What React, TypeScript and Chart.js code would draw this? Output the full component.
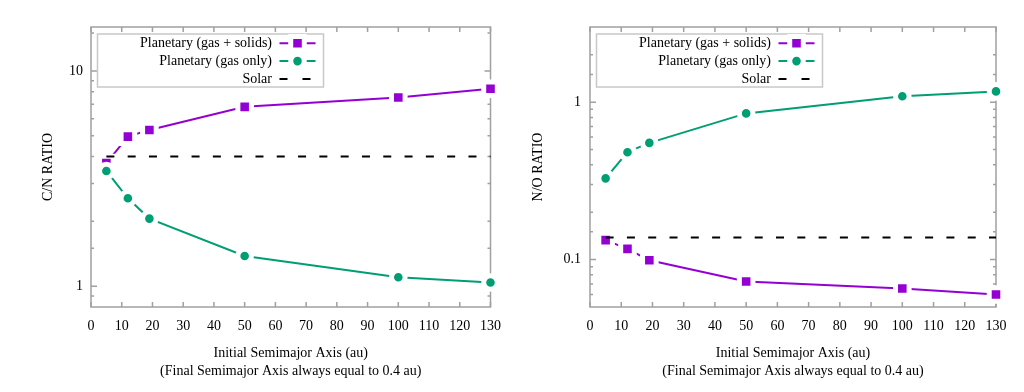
import React, { useEffect, useRef } from "react";
import { Chart, registerables } from "chart.js";

Chart.register(...registerables);

// ---------- data ----------
const semimajorAxis = [5, 12, 19, 50, 100, 130];
const cnGasSolids = [3.73, 4.95, 5.32, 6.81, 7.53, 8.26];
const cnGasOnly = [3.43, 2.56, 2.06, 1.38, 1.1, 1.04];
const cnSolar = 4.0;
const noGasSolids = [0.133, 0.117, 0.099, 0.0726, 0.0656, 0.06];
const noGasOnly = [0.328, 0.481, 0.551, 0.848, 1.09, 1.17];
const noSolar = 0.138;
const solarRange = [5, 130];
const xTickValues = [0, 10, 20, 30, 40, 50, 60, 70, 80, 90, 100, 110, 120, 130];
const cnYTickLabels = [1, 10];
const noYTickLabels = [0.1, 1];
const seriesLabels = ["Planetary (gas + solids)", "Planetary (gas only)", "Solar"];
const xTitleLines = ["Initial Semimajor Axis (au)", "(Final Semimajor Axis always equal to 0.4 au)"];

const PURPLE = "#9400d3";
const GREEN = "#009e73";
const FONT = "'Liberation Serif', 'DejaVu Serif', serif";

const SQ_R = 9.6;
const CI_R = 6.8;
const MARK_BORDER = 5;

function drawMarker(ctx: CanvasRenderingContext2D, style: string, color: string, x: number, y: number) {
  ctx.save();
  ctx.setLineDash([]);
  ctx.beginPath();
  if (style === "rect") {
    const s = Math.SQRT1_2 * SQ_R;
    ctx.rect(x - s, y - s, 2 * s, 2 * s);
  } else {
    ctx.arc(x, y, CI_R, 0, Math.PI * 2);
  }
  ctx.fillStyle = color;
  ctx.fill();
  ctx.lineWidth = MARK_BORDER;
  ctx.strokeStyle = "#ffffff";
  ctx.stroke();
  ctx.restore();
}

const framePlugin = {
  id: "gnuFrame",
  beforeDatasetsDraw(chart: any, _args: any, opts: any) {
    const { ctx, chartArea } = chart;
    const { left, right, top, bottom } = chartArea;
    const xs = chart.scales.x;
    const ys = chart.scales.y;
    const majors: number[] = opts.majors || [];
    ctx.save();
    ctx.strokeStyle = "#a0a0a0";
    ctx.lineWidth = 1.5;
    ctx.setLineDash([]);
    ctx.strokeRect(left, top, right - left, bottom - top);
    ctx.beginPath();
    xTickValues.forEach((v) => {
      const px = xs.getPixelForValue(v);
      ctx.moveTo(px, bottom);
      ctx.lineTo(px, bottom - 5);
      ctx.moveTo(px, top);
      ctx.lineTo(px, top + 5);
    });
    ys.ticks.forEach((t: any) => {
      const v = t.value;
      const py = ys.getPixelForValue(v);
      if (py < top + 0.5 || py > bottom - 0.5) return;
      const isMajor = majors.some((m) => Math.abs(m - v) < 1e-9);
      const len = isMajor ? 6 : 3;
      ctx.moveTo(left, py);
      ctx.lineTo(left + len, py);
      ctx.moveTo(right, py);
      ctx.lineTo(right - len, py);
    });
    ctx.stroke();
    ctx.restore();
  },
};

const legendPlugin = {
  id: "gnuLegend",
  afterDraw(chart: any) {
    const { ctx, chartArea } = chart;
    const bx = chartArea.left + 6.5;
    const by = chartArea.top + 7;
    const bw = 226;
    const bh = 53;
    ctx.save();
    ctx.strokeStyle = "#c8c8c8";
    ctx.lineWidth = 1.5;
    ctx.strokeRect(bx, by, bw, bh);
    ctx.font = `14px ${FONT}`;
    ctx.textAlign = "right";
    ctx.textBaseline = "middle";
    chart.data.datasets.forEach((ds: any, i: number) => {
      const cy = by + 9.3 + i * 17.8;
      ctx.fillStyle = "#000";
      ctx.fillText(ds.label, bx + 174.5, cy + 0.5);
      ctx.beginPath();
      ctx.lineWidth = 2;
      ctx.strokeStyle = ds.borderColor;
      if (ds.borderDash && ds.borderDash.length) {
        ctx.setLineDash([8, 15]);
        ctx.moveTo(bx + 182, cy);
        ctx.lineTo(bx + 213, cy);
      } else {
        ctx.setLineDash([]);
        ctx.moveTo(bx + 182, cy);
        ctx.lineTo(bx + 218, cy);
      }
      ctx.stroke();
      ctx.setLineDash([]);
      if (ds.pointRadius > 0) {
        drawMarker(ctx, ds.pointStyle, ds.pointBackgroundColor, bx + 200, cy);
      }
    });
    ctx.restore();
  },
};

function makeConfig(opts: {
  gasSolids: number[];
  gasOnly: number[];
  solar: number;
  yMin: number;
  yMax: number;
  yLabels: number[];
  yTitle: string;
  yWidth: number;
  rightPad: number;
  yTitlePad: number;
  yLabelPad: number;
}) {
  const tickFont = { family: FONT, size: 14 };
  const titleFont = { family: FONT, size: 14, lineHeight: 1.24 };
  return {
    type: "line" as const,
    data: {
      datasets: [
        {
          label: seriesLabels[0],
          data: semimajorAxis.map((x, i) => ({ x, y: opts.gasSolids[i] })),
          borderColor: PURPLE,
          borderWidth: 2,
          pointStyle: "rect",
          pointRadius: SQ_R,
          pointBackgroundColor: PURPLE,
          pointBorderColor: "#ffffff",
          pointBorderWidth: MARK_BORDER,
          clip: false,
          order: 3,
        },
        {
          label: seriesLabels[1],
          data: semimajorAxis.map((x, i) => ({ x, y: opts.gasOnly[i] })),
          borderColor: GREEN,
          borderWidth: 2,
          pointStyle: "circle",
          pointRadius: CI_R,
          pointBackgroundColor: GREEN,
          pointBorderColor: "#ffffff",
          pointBorderWidth: MARK_BORDER,
          clip: false,
          order: 2,
        },
        {
          label: seriesLabels[2],
          data: solarRange.map((x) => ({ x, y: opts.solar })),
          borderColor: "#000000",
          borderWidth: 2,
          borderDash: [8, 13.3],
          pointRadius: 0,
          clip: false,
          order: 1,
        },
      ],
    },
    options: {
      animation: false,
      responsive: false,
      maintainAspectRatio: false,
      events: [],
      layout: { padding: { left: 0, right: opts.rightPad, top: 27, bottom: 0 } },
      plugins: {
        legend: { display: false },
        tooltip: { enabled: false },
        gnuFrame: { majors: opts.yLabels },
      },
      scales: {
        x: {
          type: "linear",
          min: 0,
          max: 130,
          afterBuildTicks: (s: any) => {
            s.ticks = xTickValues.map((v) => ({ value: v }));
          },
          afterFit: (s: any) => {
            s.height = 85;
          },
          grid: { display: false, drawTicks: false },
          border: { display: false },
          ticks: { font: tickFont, color: "#000", padding: 11, maxRotation: 0, autoSkip: false },
          title: {
            display: true,
            text: xTitleLines,
            font: titleFont,
            color: "#000",
            padding: { top: 0, bottom: 12.3 },
          },
        },
        y: {
          type: "logarithmic",
          min: opts.yMin,
          max: opts.yMax,
          afterFit: (s: any) => {
            s.width = opts.yWidth;
          },
          grid: { display: false, drawTicks: false },
          border: { display: false },
          ticks: {
            font: tickFont,
            color: "#000",
            padding: opts.yLabelPad,
            autoSkip: false,
            callback: (v: any) => {
              const n = Number(v);
              return opts.yLabels.some((m) => Math.abs(m - n) < 1e-9) ? String(n) : "";
            },
          },
          title: {
            display: true,
            text: opts.yTitle,
            font: titleFont,
            color: "#000",
            padding: { top: opts.yTitlePad, bottom: 0 },
          },
        },
      },
    },
    plugins: [framePlugin, legendPlugin],
  };
}

function ChartPanel({ config }: { config: any }) {
  const ref = useRef<HTMLCanvasElement | null>(null);
  useEffect(() => {
    if (!ref.current) return;
    const chart = new Chart(ref.current, config);
    return () => chart.destroy();
  }, [config]);
  return (
    <div style={{ width: 512, height: 392, position: "relative" }}>
      <canvas ref={ref} width={512} height={392} style={{ display: "block", width: 512, height: 392 }} />
    </div>
  );
}

const leftConfig = makeConfig({
  gasSolids: cnGasSolids,
  gasOnly: cnGasOnly,
  solar: cnSolar,
  yMin: 0.8,
  yMax: 16,
  yLabels: cnYTickLabels,
  yTitle: "C/N RATIO",
  yWidth: 91,
  rightPad: 9,
  yTitlePad: 39.5,
  yLabelPad: 8,
});

const rightConfig = makeConfig({
  gasSolids: noGasSolids,
  gasOnly: noGasOnly,
  solar: noSolar,
  yMin: 0.05,
  yMax: 3,
  yLabels: noYTickLabels,
  yTitle: "N/O RATIO",
  yWidth: 78,
  rightPad: 28,
  yTitlePad: 17.8,
  yLabelPad: 9,
});

export default function App() {
  return (
    <div
      style={{
        position: "absolute",
        left: 0,
        top: 0,
        width: 1024,
        height: 392,
        display: "flex",
        background: "#ffffff",
      }}
    >
      <ChartPanel config={leftConfig} />
      <ChartPanel config={rightConfig} />
    </div>
  );
}
